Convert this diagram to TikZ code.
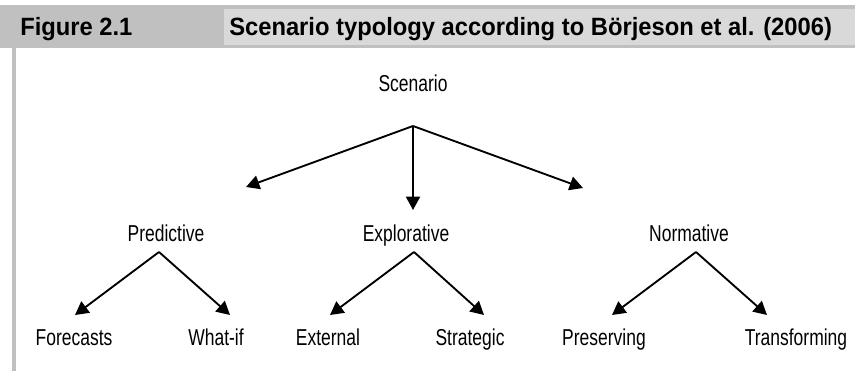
\documentclass[tikz,border=0pt]{standalone}
\usepackage{fontspec}
\setmainfont{Liberation Sans}
\newfontfamily\termfont{Liberation Sans}[FakeStretch=0.76]
\newfontfamily\headfont{Liberation Sans}[FakeStretch=0.95]
\usetikzlibrary{arrows.meta, calc}
\definecolor{bargray}{RGB}{192, 192, 192}
\definecolor{panelgray}{RGB}{217, 217, 217}
\definecolor{darkline}{RGB}{0, 0, 0}

\begin{document}
\begin{tikzpicture}[
    x=0.75pt, y=-0.75pt,
    term/.style={anchor=base, inner sep=0pt, font=\termfont\fontsize{17.25}{20}\selectfont},
    headtext/.style={anchor=base west, inner sep=0pt, font=\headfont\bfseries\fontsize{18.75}{22}\selectfont},
    arrow/.style={line width=1.4pt, -{Triangle[length=10pt, width=10.5pt]}, draw=darkline}
]
\useasboundingbox (0,0) rectangle (855,371);
\fill[white] (0,0) rectangle (855,371);

\fill[bargray] (0,5) rectangle (855,48);
\fill[panelgray] (224,9) rectangle (855,45);
\fill[bargray] (12,48) rectangle (16,371);
\node (fig_number) [headtext] at (20,35) {Figure 2.1};
\node (fig_title) [headtext] at (229,35) {Scenario typology according to Börjeson et al. (2006)};

\node (scenario) [term] at (413,91) {Scenario};
\node (predictive) [term] at (166,241) {Predictive};
\node (explorative) [term] at (406,241) {Explorative};
\node (normative) [term] at (689,241) {Normative};
\node (forecasts) [term] at (74,345) {Forecasts};
\node (whatif) [term] at (216,345) {What-if};
\node (external) [term] at (328,345) {External};
\node (strategic) [term] at (470,345) {Strategic};
\node (preserving) [term] at (604,345) {Preserving};
\node (transforming) [term] at (796,345) {Transforming};

\coordinate (scenario_fork) at (413,126);
\coordinate (predictive_in) at (246,187);
\coordinate (explorative_in) at (413,210);
\coordinate (normative_in) at (583,188);
\coordinate (predictive_fork) at (159,252);
\coordinate (forecasts_in) at (75,315);
\coordinate (whatif_in) at (230,315);
\coordinate (explorative_fork) at (414,252);
\coordinate (external_in) at (330,315);
\coordinate (strategic_in) at (484,315);
\coordinate (normative_fork) at (696,252);
\coordinate (preserving_in) at (612,315);
\coordinate (transforming_in) at (767,315);

\draw [arrow] (scenario_fork) -- (predictive_in);
\draw [arrow] (scenario_fork) -- (explorative_in);
\draw [arrow] (scenario_fork) -- (normative_in);
\draw [arrow] (predictive_fork) -- (forecasts_in);
\draw [arrow] (predictive_fork) -- (whatif_in);
\draw [arrow] (explorative_fork) -- (external_in);
\draw [arrow] (explorative_fork) -- (strategic_in);
\draw [arrow] (normative_fork) -- (preserving_in);
\draw [arrow] (normative_fork) -- (transforming_in);

\end{tikzpicture}
\end{document}
